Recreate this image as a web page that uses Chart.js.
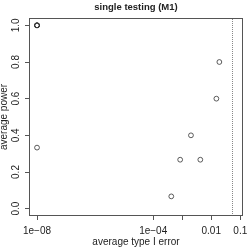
<!DOCTYPE html>
<html>
<head>
<meta charset="utf-8">
<script src="https://cdn.jsdelivr.net/npm/chart.js@4"></script>
<style>
  html, body { margin: 0; padding: 0; background: #fff; }
  #wrap { width: 249px; height: 247px; }
</style>
</head>
<body>
<div id="wrap"><canvas id="myChart" width="249" height="247"></canvas></div>
<script>
//----DATA----
const typeIError = [1e-8, 1e-8, 1e-8, 1e-8, 1e-8, 4.2e-4, 8.5e-4, 2.0e-3, 4.2e-3, 1.5e-2, 1.9e-2];
const avgPower   = [1.0, 1.0, 1.0, 1.0, 0.333, 0.067, 0.267, 0.4, 0.267, 0.6, 0.8];
const xTicks = [1e-8, 1e-4, 1e-3, 1e-2, 1e-1];
const xTickLabels = ['1e\u221208', '1e\u221204', '', '0.01', '0.1'];
const yTicks = [0, 0.2, 0.4, 0.6, 0.8, 1.0];
const yTickLabels = ['0.0', '0.2', '0.4', '0.6', '0.8', '1.0'];
const alphaLine = 0.05;
const titleText = 'single testing (M1)';
const xTitle = 'average type I error';
const yTitle = 'average power';

const FONT = '"Liberation Sans", Arial, sans-serif';
const AXIS_COL = '#555';

//----PLUGINS----
const rDecor = {
  id: 'rDecor',
  afterDraw(chart) {
    const { ctx, chartArea: { top, bottom, left, right }, scales: { x, y } } = chart;
    ctx.save();
    // box
    ctx.strokeStyle = AXIS_COL;
    ctx.lineWidth = 1;
    ctx.strokeRect(left + 0.5, top + 0.5, right - left - 1, bottom - top - 1);
    // dotted line at alpha
    const ax = Math.round(x.getPixelForValue(alphaLine)) + 0.5;
    ctx.setLineDash([1, 1]);
    ctx.strokeStyle = '#888';
    ctx.beginPath();
    ctx.moveTo(ax, top + 1);
    ctx.lineTo(ax, bottom - 1);
    ctx.stroke();
    ctx.setLineDash([]);
    // y tick labels, rotated like R
    ctx.fillStyle = '#222';
    ctx.font = '10px ' + FONT;
    ctx.textAlign = 'center';
    ctx.textBaseline = 'middle';
    yTicks.forEach((v, i) => {
      ctx.save();
      ctx.translate(16.5, y.getPixelForValue(v));
      ctx.rotate(-Math.PI / 2);
      ctx.fillText(yTickLabels[i], 0, 0);
      ctx.restore();
    });
    // titles
    ctx.font = 'bold 9.5px ' + FONT;
    ctx.fillText(titleText, (left + right) / 2, 7);
    ctx.font = '10px ' + FONT;
    ctx.fillText(xTitle, (left + right) / 2, 242);
    ctx.save();
    ctx.translate(4, (top + bottom) / 2);
    ctx.rotate(-Math.PI / 2);
    ctx.fillText(yTitle, 0, 0);
    ctx.restore();
    ctx.restore();
  }
};

//----CONFIG----
const points = typeIError.map((v, i) => ({ x: v, y: avgPower[i] }));

const config = {
  type: 'scatter',
  data: {
    datasets: [{
      data: points,
      pointRadius: 2.4,
      pointBorderWidth: 0.8,
      pointBorderColor: '#333',
      pointBackgroundColor: 'rgba(0,0,0,0)',
      pointHoverRadius: 2.4
    }]
  },
  options: {
    responsive: false,
    animation: false,
    layout: { padding: { top: 18, right: 6, left: 0, bottom: 0 } },
    scales: {
      x: {
        type: 'logarithmic',
        bounds: 'data',
        min: Math.pow(10, -8.276),
        max: Math.pow(10, -0.907),
        afterBuildTicks: (s) => { s.ticks = xTicks.map(v => ({ value: v })); },
        afterFit: (s) => { s.height = 31; s.paddingLeft = 0; s.paddingRight = 0; },
        border: { display: false },
        grid: { drawOnChartArea: false, drawTicks: true, tickLength: 4, color: AXIS_COL },
        ticks: {
          autoSkip: false, maxRotation: 0, minRotation: 0, padding: 5,
          color: '#222', font: { family: FONT, size: 10 },
          callback: (v, i) => xTickLabels[i]
        }
      },
      y: {
        bounds: 'data',
        min: -0.04,
        max: 1.04,
        afterBuildTicks: (s) => { s.ticks = yTicks.map(v => ({ value: v })); },
        afterFit: (s) => { s.width = 29; s.paddingTop = 0; s.paddingBottom = 0; },
        border: { display: false },
        grid: { drawOnChartArea: false, drawTicks: true, tickLength: 4, color: AXIS_COL },
        ticks: { display: false }
      }
    },
    plugins: {
      legend: { display: false },
      tooltip: { enabled: false }
    }
  },
  plugins: [rDecor]
};

const myChart = new Chart(document.getElementById('myChart'), config);
</script>
</body>
</html>
